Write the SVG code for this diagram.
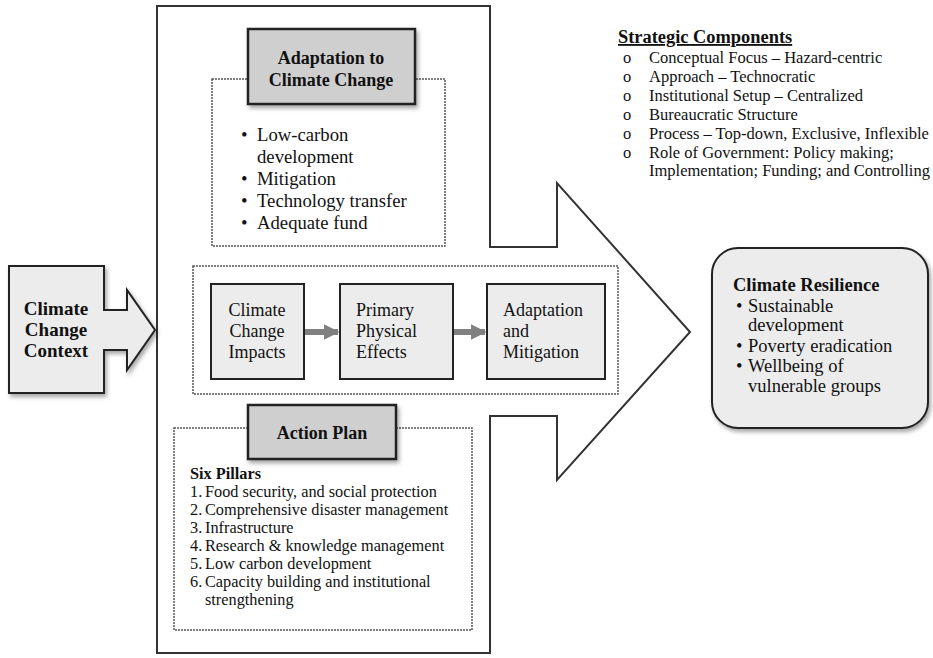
<svg xmlns="http://www.w3.org/2000/svg" width="933" height="658" viewBox="0 0 933 658">
<defs>
<style>
text{font-family:"Liberation Serif","Times New Roman",serif;fill:#111}
.b{font-weight:bold}
.dot{fill:none;stroke:#555;stroke-width:1.5;stroke-dasharray:2 1}
.box{fill:#ececec;stroke:#222;stroke-width:2}
.hdr{fill:#cfcfcf;stroke:#222;stroke-width:2.5}
.conn{fill:none;stroke:#808080;stroke-width:6}
</style>
<filter id="sh" x="-10%" y="-10%" width="125%" height="125%">
<feDropShadow dx="2" dy="3" stdDeviation="2" flood-color="#000" flood-opacity="0.35"/>
</filter>
<marker id="ah" viewBox="0 0 10 10" refX="9" refY="5" markerWidth="2.6" markerHeight="3" orient="auto" markerUnits="strokeWidth">
<path d="M0,0 L10,5 L0,10 Z" fill="#808080"/>
</marker>
</defs>
<rect width="933" height="658" fill="#fff"/>

<g id="big-arrow">
<path d="M157,6 L490,6 L490,247 L557,247 L557,183 L690,332 L557,480 L557,416 L490,416 L490,653 L157,653 Z" fill="#fff" stroke="#333" stroke-width="2"/>
</g>

<g id="context">
<path d="M9,266 L104,266 L104,310 L127,310 L127,290 L155,330 L127,370 L127,350 L104,350 L104,393 L9,393 Z" fill="#ececec" stroke="#222" stroke-width="2" filter="url(#sh)"/>
<text class="b" font-size="19" text-anchor="middle"><tspan x="56" y="315">Climate</tspan><tspan x="56" y="336">Change</tspan><tspan x="56" y="357">Context</tspan></text>
</g>

<g id="adaptation">
<rect class="dot" x="212" y="79" width="233" height="167"/>
<rect class="hdr" x="248" y="29" width="167" height="75" filter="url(#sh)"/>
<text class="b" font-size="18" text-anchor="middle"><tspan x="331" y="64">Adaptation to</tspan><tspan x="331" y="86">Climate Change</tspan></text>
<text font-size="18.7"><tspan x="241" y="141">•</tspan><tspan x="257" y="141">Low-carbon</tspan><tspan x="257" y="163">development</tspan><tspan x="241" y="185">•</tspan><tspan x="257" y="185">Mitigation</tspan><tspan x="241" y="207">•</tspan><tspan x="257" y="207">Technology transfer</tspan><tspan x="241" y="229">•</tspan><tspan x="257" y="229">Adequate fund</tspan></text>
</g>

<g id="process">
<rect class="dot" x="193" y="266" width="425" height="128"/>
</g>

<g id="impacts">
<rect class="box" x="211" y="284" width="93" height="95"/>
<text font-size="18" text-anchor="middle"><tspan x="257" y="316">Climate</tspan><tspan x="257" y="337">Change</tspan><tspan x="257" y="358">Impacts</tspan></text>
</g>

<g id="effects">
<rect class="box" x="340" y="284" width="113" height="95"/>
<text font-size="18"><tspan x="356" y="316">Primary</tspan><tspan x="356" y="337">Physical</tspan><tspan x="356" y="358">Effects</tspan></text>
</g>

<g id="adapt-mitig">
<rect class="box" x="487" y="284" width="118" height="95"/>
<text font-size="18"><tspan x="503" y="316">Adaptation</tspan><tspan x="503" y="337">and</tspan><tspan x="503" y="358">Mitigation</tspan></text>
</g>

<g id="connectors">
<line class="conn" x1="305" y1="332" x2="338" y2="332" marker-end="url(#ah)"/>
<line class="conn" x1="454" y1="332" x2="485" y2="332" marker-end="url(#ah)"/>
</g>

<g id="action-plan">
<rect class="dot" x="174" y="428" width="298" height="202"/>
<rect class="hdr" x="248" y="405" width="148" height="54" filter="url(#sh)"/>
<text class="b" font-size="18" x="322" y="439" text-anchor="middle">Action Plan</text>
<text class="b" font-size="16.3" x="190" y="479">Six Pillars</text>
<text font-size="16.3"><tspan x="190" y="497">1.</tspan><tspan x="205" y="497">Food security, and social protection</tspan><tspan x="190" y="515">2.</tspan><tspan x="205" y="515">Comprehensive disaster management</tspan><tspan x="190" y="533">3.</tspan><tspan x="205" y="533">Infrastructure</tspan><tspan x="190" y="551">4.</tspan><tspan x="205" y="551">Research &amp; knowledge management</tspan><tspan x="190" y="569">5.</tspan><tspan x="205" y="569">Low carbon development</tspan><tspan x="190" y="587">6.</tspan><tspan x="205" y="587">Capacity building and institutional</tspan><tspan x="205" y="605">strengthening</tspan></text>
</g>

<g id="strategic">
<text class="b" font-size="18.4" x="618" y="43" text-decoration="underline">Strategic Components</text>
<text font-size="16.5"><tspan x="623" y="63">o</tspan><tspan x="649" y="63">Conceptual Focus – Hazard-centric</tspan><tspan x="623" y="82">o</tspan><tspan x="649" y="82">Approach – Technocratic</tspan><tspan x="623" y="101">o</tspan><tspan x="649" y="101">Institutional Setup – Centralized</tspan><tspan x="623" y="120">o</tspan><tspan x="649" y="120">Bureaucratic Structure</tspan><tspan x="623" y="139">o</tspan><tspan x="649" y="139">Process – Top-down, Exclusive, Inflexible</tspan><tspan x="623" y="158">o</tspan><tspan x="649" y="158">Role of Government: Policy making;</tspan><tspan x="649" y="176">Implementation; Funding; and Controlling</tspan></text>
</g>

<g id="resilience">
<rect x="712" y="248" width="216" height="180" rx="26" fill="#ececec" stroke="#222" stroke-width="2" filter="url(#sh)"/>
<text class="b" font-size="18.5" x="733" y="291">Climate Resilience</text>
<text font-size="18.5"><tspan x="736" y="312">•</tspan><tspan x="748" y="312">Sustainable</tspan><tspan x="748" y="331">development</tspan><tspan x="736" y="352">•</tspan><tspan x="748" y="352">Poverty eradication</tspan><tspan x="736" y="372">•</tspan><tspan x="748" y="372">Wellbeing of</tspan><tspan x="748" y="392">vulnerable groups</tspan></text>
</g>
</svg>
